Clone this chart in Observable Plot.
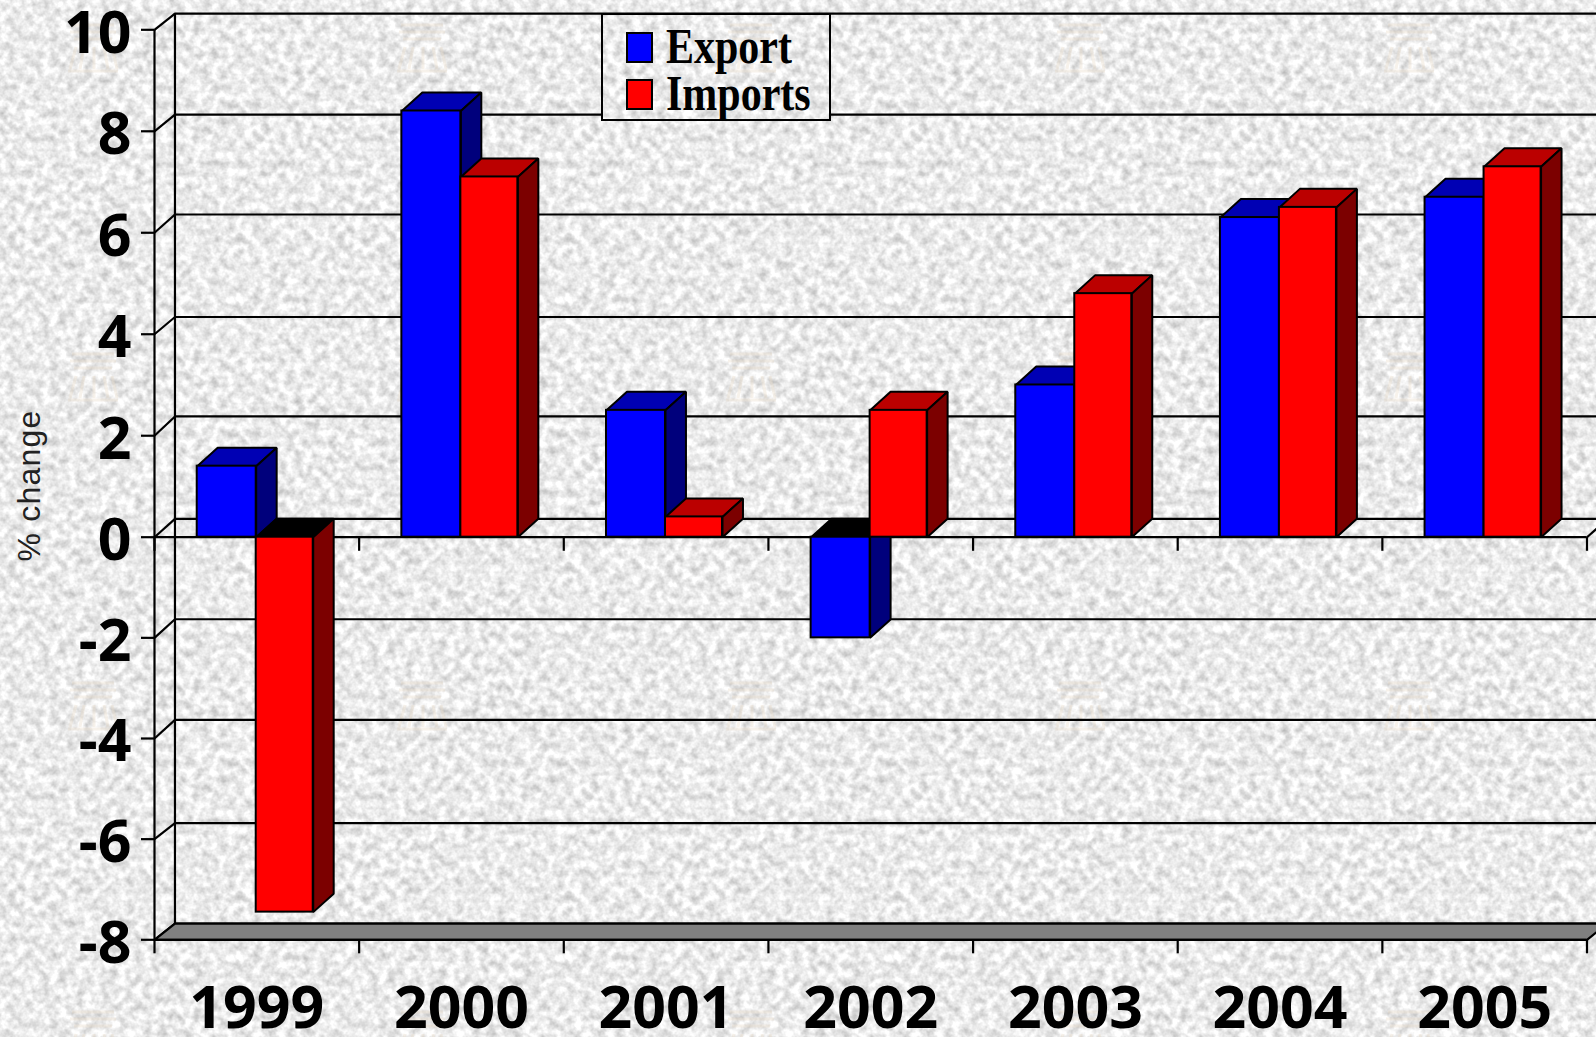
<!DOCTYPE html>
<html>
<head>
<meta charset="utf-8">
<title>Export and imports, % change</title>
<script src="https://cdn.jsdelivr.net/npm/d3@7"></script>
<script src="https://cdn.jsdelivr.net/npm/@observablehq/plot@0.6"></script>
<style>
  html, body { margin: 0; padding: 0; width: 100%; height: 100%; overflow: hidden; }
  #chart { position: relative; width: 1596px; height: 1037px; }
  #chart svg { display: block; }
  #legend {
    position: absolute; left: 601px; top: 13px; width: 226px; height: 104px;
    border: 2px solid #000;
  }
  #legend svg { position: absolute; left: 0; top: 0; overflow: visible; }
</style>
</head>
<body>
<div id="chart"></div>
<script>
// Annual percentage change, one pair of bars per year
const years = ["1999", "2000", "2001", "2002", "2003", "2004", "2005"];
const exportChange = [1.4, 8.4, 2.5, -2.0, 3.0, 6.3, 6.7];
const importChange = [-7.45, 7.1, 0.4, 2.5, 4.8, 6.5, 7.3];
const valueTicks = [-8, -6, -4, -2, 0, 2, 4, 6, 8, 10];
// How far each gridline sits up the back wall, in value units
const wallOffsets = [0.32, 0.32, 0.37, 0.37, 0.36, 0.38, 0.34, 0.36, 0.33, 0.32];
const edgeTicks = [0, 1, 2, 3, 4, 5, 6, 7];

// Oblique projection of the bars and the chart walls, in scale units
const depthX = 0.1;
const depthY = 0.365;
const floorValue = -8;
const rightEdge = 7 + depthX;
const wallLines = valueTicks.map((v, i) => ({front: v, back: v + wallOffsets[i]}));
const floorBack = wallLines[0].back;
const wallTop = wallLines[wallLines.length - 1].back;
const zeroBack = wallLines[valueTicks.indexOf(0)].back;

const seriesStyles = [
  {name: "Export", values: exportChange, start: 0.2087, end: 0.497, front: "#0000ff", top: "#0000b4", side: "#00007c"},
  {name: "Imports", values: importChange, start: 0.497, end: 0.7756, front: "#ff0000", top: "#bb0000", side: "#7c0000"}
];

// Speckled paper texture, tiled across the page, with a faint stamp in each tile
const stampStrokes = [
  "M20 30h42", "M18 37h46", "M22 44h38", "M24 52l-6 22", "M32 52l-4 22", "M42 52v22", "M52 52l4 22", "M60 52l5 22", "M16 76h50"
].map(d => `<path d="${d}"/>`).join("");
const textureSvg = `<svg xmlns="http://www.w3.org/2000/svg" width="329" height="329">
  <filter id="grain" x="0" y="0" width="100%" height="100%" color-interpolation-filters="sRGB">
    <feTurbulence type="fractalNoise" baseFrequency="0.12" numOctaves="3" seed="7" stitchTiles="stitch"/>
    <feColorMatrix type="matrix" values="0.42 0 0 0 0.71  0.42 0 0 0 0.71  0.42 0 0 0 0.71  0 0 0 0 1"/>
  </filter>
  <rect width="329" height="329" filter="url(#grain)"/>
  <g transform="translate(52,-5)" fill="none" stroke="#e8d9c4" stroke-width="3" opacity="0.35">${stampStrokes}</g>
</svg>`;
const textureUrl = `url("data:image/svg+xml,${encodeURIComponent(textureSvg)}")`;
document.body.style.background = `${textureUrl} repeat fixed`;

const bars = seriesStyles.map(s =>
  s.values.map((v, i) => ({
    year: years[i],
    value: v,
    x1: i + s.start,
    x2: i + s.end,
    front: s.front,
    side: s.side,
    // A bar below zero shows the dark underside of its cap at the zero plane
    top: v < 0 ? "#000000" : s.top
  }))
);

// Closed outlines for the receding faces of one bar
function topFace(b) {
  const t = Math.max(b.value, 0);
  return [
    {id: b.year + "t", x: b.x1, y: t, fill: b.top},
    {id: b.year + "t", x: b.x2, y: t, fill: b.top},
    {id: b.year + "t", x: b.x2 + depthX, y: t + depthY, fill: b.top},
    {id: b.year + "t", x: b.x1 + depthX, y: t + depthY, fill: b.top}
  ];
}
function sideFace(b) {
  return [
    {id: b.year + "s", x: b.x2, y: 0, fill: b.side},
    {id: b.year + "s", x: b.x2, y: b.value, fill: b.side},
    {id: b.year + "s", x: b.x2 + depthX, y: b.value + depthY, fill: b.side},
    {id: b.year + "s", x: b.x2 + depthX, y: depthY, fill: b.side}
  ];
}

const barMarks = series => [
  Plot.line(series.flatMap(topFace), {
    x: "x", y: "y", z: "id", fill: d => d.fill, stroke: "#000", strokeWidth: 2,
    curve: "linear-closed", strokeLinejoin: "miter"
  }),
  Plot.line(series.flatMap(sideFace), {
    x: "x", y: "y", z: "id", fill: d => d.fill, stroke: "#000", strokeWidth: 2,
    curve: "linear-closed", strokeLinejoin: "miter"
  }),
  Plot.rect(series, {
    x1: "x1", x2: "x2", y1: () => 0, y2: "value", fill: d => d.front,
    stroke: "#000", strokeWidth: 2
  })
];

const floorOutline = [
  {x: 0, y: floorValue},
  {x: depthX, y: floorBack},
  {x: rightEdge, y: floorBack},
  {x: 7, y: floorValue}
];

const lineWidth = 2.2;
const chart = Plot.plot({
  width: 1596,
  height: 1037,
  marginLeft: 154,
  marginRight: 10,
  marginTop: 29.3,
  marginBottom: 97.7,
  style: {background: "transparent", fontFamily: "'Noto Sans', sans-serif", color: "#000"},
  x: {type: "linear", domain: [0, 7], range: [154, 1586.5]},
  y: {type: "linear", domain: [-8, 0, 10], range: [939.3, 536.7, 29.3]},
  color: {type: "identity"},
  marks: [
    // Back wall: gridlines, left wall edges and the floor
    Plot.ruleY(wallLines, {y: "back", x1: () => depthX, x2: () => rightEdge, stroke: "#000", strokeWidth: lineWidth}),
    Plot.ruleX([depthX], {y1: () => floorBack, y2: () => wallTop, stroke: "#000", strokeWidth: lineWidth}),
    Plot.link(wallLines, {x1: () => 0, x2: () => depthX, y1: "front", y2: "back", stroke: "#000", strokeWidth: lineWidth}),
    Plot.line(floorOutline, {x: "x", y: "y", fill: "#808080", stroke: "#000", strokeWidth: lineWidth, curve: "linear-closed"}),
    // Zero plane: front edge with its ticks and the slant at the right end
    Plot.ruleY([0], {x1: () => 0, x2: () => 7, stroke: "#000", strokeWidth: lineWidth}),
    Plot.link([7], {x1: d => d, x2: d => d + depthX, y1: () => 0, y2: () => zeroBack, stroke: "#000", strokeWidth: lineWidth}),
    Plot.ruleX(edgeTicks, {y1: () => 0, y2: () => -0.28, stroke: "#000", strokeWidth: lineWidth}),
    // Value axis line
    Plot.ruleX([0], {y1: () => -8, y2: () => 10, stroke: "#000", strokeWidth: lineWidth}),
    Plot.ruleY([-8], {x1: () => 0, x2: () => 7, stroke: "#000", strokeWidth: lineWidth}),
    // Bars, Export first so Imports overlap its side face
    ...bars.flatMap(barMarks),
    Plot.axisY({
      ticks: valueTicks, tickSize: 13, tickPadding: 10, tickFormat: String, label: null,
      fontSize: 59, fontWeight: 700, strokeWidth: lineWidth, stroke: "#000", fill: "#000",
      textStroke: "none"
    }),
    Plot.axisX({
      ticks: edgeTicks, tickSize: 14, tickFormat: () => "", label: null,
      strokeWidth: lineWidth, stroke: "#000"
    }),
    Plot.axisX({
      ticks: years.map((_, i) => i + 0.5), tickSize: 0, tickPadding: 46, label: null,
      tickFormat: d => years[Math.floor(d)], fontSize: 59, fontWeight: 700, fill: "#000"
    }),
    Plot.text(["% change"], {
      x: () => -0.61, y: () => 1.02, text: d => d, rotate: -90, fontSize: 32,
      fontFamily: "'Liberation Sans', sans-serif", fill: "#222"
    })
  ]
});
document.getElementById("chart").appendChild(chart);

// Settle the value labels on their ticks and open up the axis title
d3.select(chart).selectAll("text").each(function () {
  const t = d3.select(this);
  const s = t.text();
  if (s === "% change") t.style("letter-spacing", "1.2px");
  else if (/^-?\d+$/.test(s) && s.length <= 2) t.attr("transform", function () {
    return (this.getAttribute("transform") || "") + " translate(0,4)";
  });
});

// Legend box, laid over the top gridlines
const legend = document.createElement("div");
legend.id = "legend";
legend.style.background = `${textureUrl} repeat fixed`;
const entries = seriesStyles.map((s, i) => `
  <rect x="24" y="${18 + i * 47}" width="25" height="29" fill="${s.front}" stroke="#000" stroke-width="2"/>
  <text transform="translate(63,${48 + i * 47}) scale(1,1.2)" font-family="'Liberation Serif', serif"
        font-weight="700" font-size="42" fill="#000">${s.name}</text>`).join("");
legend.innerHTML = `<svg width="226" height="104">${entries}</svg>`;
document.getElementById("chart").appendChild(legend);
</script>
</body>
</html>
